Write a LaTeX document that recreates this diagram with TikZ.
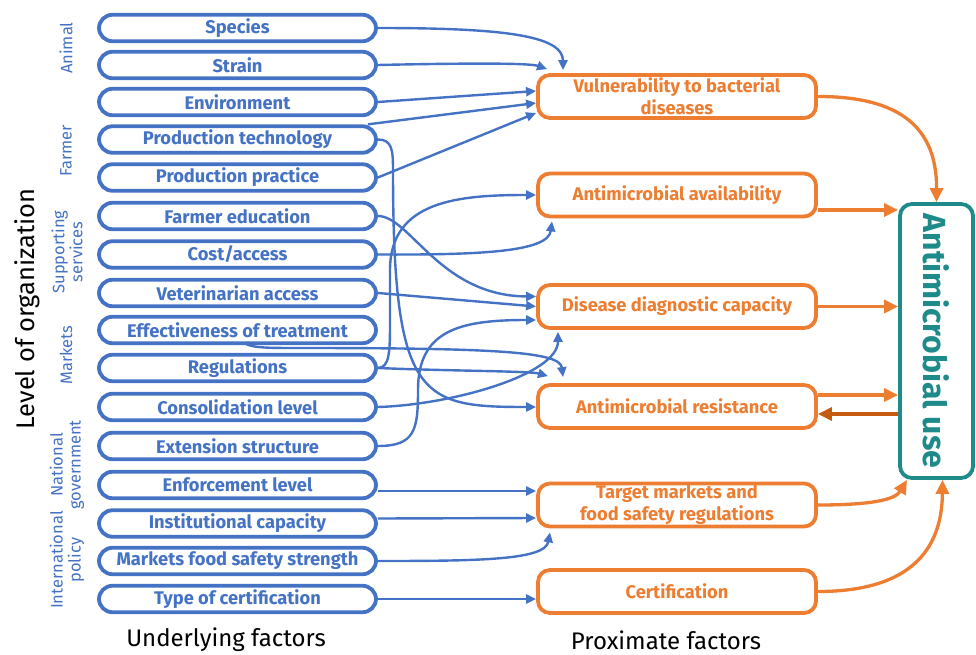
\documentclass[tikz,border=0pt]{standalone}
\usepackage{fontspec}
\setmainfont{Fira Sans}
\usetikzlibrary{arrows.meta,calc}
\definecolor{cblue}{HTML}{4472C4}
\definecolor{corange}{HTML}{ED7D31}
\definecolor{cdark}{HTML}{C55A11}
\definecolor{cteal}{HTML}{1F8A8A}
\pgfdeclarelayer{background}
\pgfsetlayers{background,main}
\begin{document}
\begin{tikzpicture}[x=1pt,y=-1pt,
  ubox/.style={draw=cblue, line width=3.8pt, rounded corners=13.5pt, fill=white, minimum width=277pt, minimum height=26.5pt, inner sep=0pt, text=cblue, font=\bfseries\fontsize{18.3}{21}\selectfont},
  pbox/.style={draw=corange, line width=3.8pt, rounded corners=12pt, fill=white, minimum width=278pt, minimum height=43pt, inner sep=0pt, text=corange, align=center, font=\bfseries\fontsize{18.3}{22}\selectfont},
  amubox/.style={draw=cteal, line width=3.8pt, rounded corners=12pt, fill=white, minimum width=73pt, minimum height=274pt, inner sep=0pt, text=cteal, font=\bfseries\fontsize{32}{34}\selectfont},
  lab/.style={text=cblue, font=\fontsize{16.5}{18}\selectfont, align=center, rotate=90},
  axlab/.style={text=black, font=\fontsize{24}{28}\selectfont},
  barrow/.style={draw=cblue, line width=2.4pt, -{Triangle[length=10pt,width=9pt]}},
  oarrow/.style={draw=corange, line width=3.3pt, -{Triangle[length=14pt,width=13pt]}},
  darrow/.style={draw=cdark, line width=3.3pt, -{Triangle[length=14pt,width=13pt]}}
]
\useasboundingbox (0,0) rectangle (976,655);

% underlying factors
\node[ubox] (u1) at (237.5,28) {Species};
\node[ubox] (u2) at (237.5,65) {Strain};
\node[ubox] (u3) at (237.5,102) {Environment};
\node[ubox] (u4) at (237.5,139.5) {Production technology};
\node[ubox] (u5) at (237.5,177.5) {Production practice};
\node[ubox] (u6) at (237.5,216) {Farmer education};
\node[ubox] (u7) at (237.5,254.5) {Cost/access};
\node[ubox] (u8) at (237.5,293) {Veterinarian access};
\node[ubox] (u9) at (237.5,330) {Effectiveness of treatment};
\node[ubox] (u10) at (237.5,368) {Regulations};
\node[ubox] (u11) at (237.5,407) {Consolidation level};
\node[ubox] (u12) at (237.5,446) {Extension structure};
\node[ubox] (u13) at (237.5,485) {Enforcement level};
\node[ubox] (u14) at (237.5,523.5) {Institutional capacity};
\node[ubox] (u15) at (237.5,561) {Markets food safety strength};
\node[ubox] (u16) at (237.5,599) {Type of certification};

% proximate factors
\node[pbox] (p1) at (677,96.5) {Vulnerability to bacterial\\diseases};
\node[pbox] (p2) at (677,195) {Antimicrobial availability};
\node[pbox] (p3) at (677,306.5) {Disease diagnostic capacity};
\node[pbox] (p4) at (677,406.5) {Antimicrobial resistance};
\node[pbox] (p5) at (677,505) {Target markets and\\food safety regulations};
\node[pbox] (p6) at (677,591.5) {Certification};

\node[amubox] (amu) at (936.5,341) {\rotatebox{-90}{Antimicrobial use}};

% level labels
\node[lab] (lA) at (66,48) {Animal};
\node[lab] (lF) at (66,151) {Farmer};
\node[lab] (lS) at (67,252) {Supporting\\services};
\node[lab] (lM) at (66,355) {Markets};
\node[lab] (lN) at (67,465) {National\\government};
\node[lab] (lI) at (67,560) {International\\policy};
\node[axlab, rotate=90, font=\fontsize{25.5}{28}\selectfont] (lev) at (27,309) {Level of organization};
\node[axlab] (uf) at (226,640) {Underlying factors};
\node[axlab] (pf) at (666,640) {Proximate factors};

\begin{pgfonlayer}{background}
% blue connectors
\draw[barrow] (u1.east) .. controls (500,28) and (563,35) .. ([xshift=-114pt,yshift=3pt]p1.north);
\draw[barrow] (u2.east) .. controls (470,63) and (530,63) .. ([xshift=-130pt,yshift=4pt]p1.north);
\draw[barrow] (u3.east) -- ([yshift=5.5pt]p1.west);
\draw[barrow] ([xshift=-10pt]u4.north east) -- ([yshift=-6.5pt]p1.west);
\draw[barrow] (u5.east) -- ([yshift=-16.5pt]p1.west);
\draw[barrow] (u4.east) .. controls (392,139.5) and (393,150) .. (393,170) .. controls (393,400) and (420,407) .. ([yshift=-0.5pt]p4.west);
\draw[barrow] (u6.east) .. controls (410,216) and (440,296) .. ([yshift=10pt]p3.west);
\draw[barrow] (u7.east) .. controls (480,255) and (548,252) .. ([xshift=-125pt,yshift=-3pt]p2.south);
\draw[barrow] (u8.east) -- (p3.west);
\draw[barrow] (u9.center) .. controls (240,348) and (250,348) .. (300,348) .. controls (500,348) and (560,352) .. ([xshift=-114pt,yshift=6pt]p4.north);
\draw[barrow] (u10.east) .. controls (450,371) and (530,371) .. ([xshift=-129pt,yshift=7pt]p4.north);
\draw[barrow] (u10.east) .. controls (390,368) and (390,350) .. (390,320) -- (390,270) .. controls (390,200) and (460,195) .. (p2.west);
\draw[barrow] (u11.east) .. controls (450,405) and (558,375) .. ([xshift=-119pt,yshift=-2pt]p3.south);
\draw[barrow] (u12.east) .. controls (415,446) and (418,430) .. (418,390) .. controls (418,330) and (460,320) .. ([yshift=-13.5pt]p3.west);
\draw[barrow] ([yshift=-6pt]u13.east) -- ([yshift=14pt]p5.west);
\draw[barrow] ([yshift=5pt]u14.east) -- ([yshift=-13pt]p5.west);
\draw[barrow] (u15.east) .. controls (480,561) and (545,560) .. ([xshift=-127pt,yshift=-4pt]p5.south);
\draw[barrow] (u16.east) -- ([yshift=-7.5pt]p6.west);

% orange connectors
\draw[oarrow] (p1.east) .. controls (890,96.5) and (937,120) .. (amu.north);
\coordinate (o2) at ([yshift=-15pt]p2.east);
\draw[oarrow] (o2) -- (o2 -| amu.west);
\draw[oarrow] (p3.east) -- (p3.east -| amu.west);
\coordinate (o4) at ([yshift=11.5pt]p4.east);
\draw[oarrow] (o4) -- (o4 -| amu.west);
\coordinate (o4b) at ([yshift=-7.5pt]amu.west |- p4.east);
\draw[darrow] (o4b) -- (o4b -| p4.east);
\draw[oarrow] (p5.east) .. controls (870,505) and (895,500) .. ([xshift=-29.5pt]amu.south);
\draw[oarrow] (p6.east) .. controls (910,591.5) and (942,550) .. ([xshift=6pt]amu.south);
\end{pgfonlayer}
\end{tikzpicture}
\end{document}
